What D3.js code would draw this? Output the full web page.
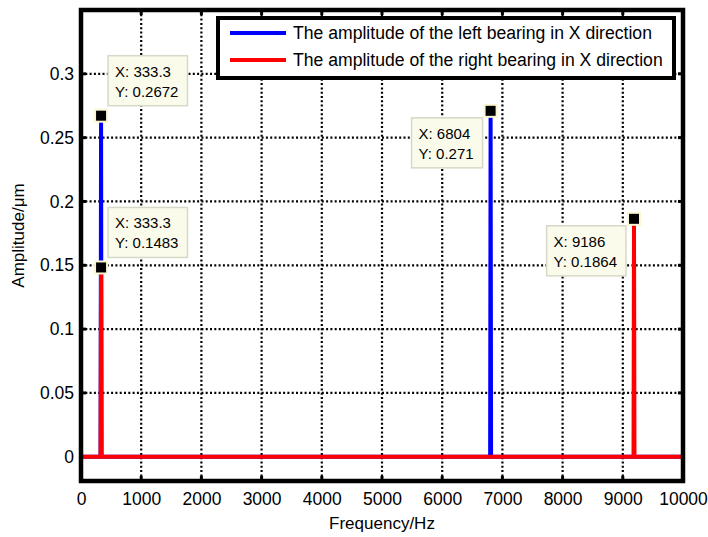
<!DOCTYPE html>
<html>
<head>
<meta charset="utf-8">
<script src="https://cdn.jsdelivr.net/npm/d3@7"></script>
<style>
	body { margin: 0; background: #fff; }
	text { font-family: Arial, "Liberation Sans", sans-serif; fill: #000; }
</style>
</head>
<body>
<div id="chart"></div>
<script>

// Spectrum points (frequency in Hz, amplitude in um)
var leftFreq = [0, 325, 333.3, 341, 6796, 6804, 6812, 10000];
var leftAmp  = [0, 0, 0.2672, 0, 0, 0.271, 0, 0];

var rightFreq = [0, 325, 333.3, 341, 9178, 9186, 9194, 10000];
var rightAmp  = [0, 0, 0.1483, 0, 0, 0.1864, 0, 0];

var seriesNames = ["The amplitude of the left bearing in X direction",
	"The amplitude of the right bearing in X direction"];
var seriesColors = ["#0000ff", "#ff0000"];

// data tips
var tipX = [333.3, 333.3, 6804, 9186];
var tipY = [0.2672, 0.1483, 0.271, 0.1864];
var tipCorner = ["upright", "upright", "downleft", "downleft"];

var xTicks = [0, 1000, 2000, 3000, 4000, 5000, 6000, 7000, 8000, 9000, 10000];
var yTicks = [0, 0.05, 0.1, 0.15, 0.2, 0.25, 0.3];

var margin = {top: 10, right: 25, bottom: 56, left: 81};
var width = 708 - margin.left - margin.right,
	height = 537 - margin.top - margin.bottom;

var svg = d3.select("#chart").append("svg")
	.attr("width", 708)
	.attr("height", 537)
	.append("g")
	.attr("transform", "translate(" + margin.left + "," + margin.top + ")");

var x = d3.scaleLinear()
	.domain([0, 10000])
	.range([0, width]);

var y = d3.scaleLinear()
	.domain([-0.019, 0.35])
	.range([height, 0]);

// Grid (dotted)
svg.selectAll(".xgrid")
	.data(xTicks.slice(1, -1))
	.enter().append("line")
	.attr("x1", function(d) { return x(d); })
	.attr("x2", function(d) { return x(d); })
	.attr("y1", 0)
	.attr("y2", height)
	.style("stroke", "#000")
	.style("stroke-width", 2.2)
	.style("stroke-dasharray", "2,2.3");

svg.selectAll(".ygrid")
	.data(yTicks)
	.enter().append("line")
	.attr("x1", 0)
	.attr("x2", width)
	.attr("y1", function(d) { return y(d); })
	.attr("y2", function(d) { return y(d); })
	.style("stroke", "#000")
	.style("stroke-width", 2.2)
	.style("stroke-dasharray", "2,2.3");

// Axes labels
var xAxis = d3.axisBottom(x).tickValues(xTicks).tickSize(0).tickPadding(12)
	.tickFormat(d3.format("d"));
var yAxis = d3.axisLeft(y).tickValues(yTicks).tickSize(0).tickPadding(7)
	.tickFormat(function(d) { return String(+d.toFixed(2)); });

var gx = svg.append("g")
	.attr("transform", "translate(0," + height + ")")
	.call(xAxis);
var gy = svg.append("g").call(yAxis);

[gx, gy].forEach(function(g) {
	g.select(".domain").remove();
	g.selectAll("text").style("font-size", "17.5px").attr("fill", "#000");
});

// Inner tick stubs
var tickLen = 5;
xTicks.forEach(function(d) {
	svg.append("line").attr("x1", x(d)).attr("x2", x(d)).attr("y1", height).attr("y2", height - tickLen)
		.style("stroke", "#000").style("stroke-width", 3);
	svg.append("line").attr("x1", x(d)).attr("x2", x(d)).attr("y1", 0).attr("y2", tickLen)
		.style("stroke", "#000").style("stroke-width", 3);
});
yTicks.forEach(function(d) {
	svg.append("line").attr("x1", 0).attr("x2", tickLen).attr("y1", y(d)).attr("y2", y(d))
		.style("stroke", "#000").style("stroke-width", 3);
	svg.append("line").attr("x1", width).attr("x2", width - tickLen).attr("y1", y(d)).attr("y2", y(d))
		.style("stroke", "#000").style("stroke-width", 3);
});

// Lines
var line = d3.line()
	.x(function(d) { return x(d[0]); })
	.y(function(d) { return y(d[1]); });

var leftData = leftFreq.map(function(f, i) { return [f, leftAmp[i]]; });
var rightData = rightFreq.map(function(f, i) { return [f, rightAmp[i]]; });

[leftData, rightData].forEach(function(d, i) {
	svg.append("path")
		.datum(d)
		.attr("d", line)
		.style("fill", "none")
		.style("stroke", seriesColors[i])
		.style("stroke-width", 4)
		.style("stroke-linejoin", "bevel");
});

// Plot box
svg.append("rect")
	.attr("x", 0)
	.attr("y", 0)
	.attr("width", width)
	.attr("height", height)
	.style("fill", "none")
	.style("stroke", "#000")
	.style("stroke-width", 4.5);

// Data tips
tipX.forEach(function(tx, i) {
	var px = x(tx), py = y(tipY[i]);
	var g = svg.append("g");
	var t1 = g.append("text").text("X: " + tx).style("font-size", "15px");
	var t2 = g.append("text").text("Y: " + tipY[i]).style("font-size", "15px");
	var w = Math.max(t1.node().getBBox().width, t2.node().getBBox().width) + 16;
	var h = 50;
	var bx, by;
	if (tipCorner[i] == "upright") {
		bx = px + 7; by = py - 10 - h;
	} else {
		bx = px - 8 - w; by = py + 7;
	}
	g.insert("rect", "text")
		.attr("x", bx).attr("y", by)
		.attr("width", w).attr("height", h)
		.style("fill", "#fbfbec")
		.style("stroke", "#d8d8c8")
		.style("stroke-width", 1.5);
	t1.attr("x", bx + 7).attr("y", by + 21);
	t2.attr("x", bx + 7).attr("y", by + 41);
	svg.append("rect")
		.attr("x", px - 6).attr("y", py - 6)
		.attr("width", 12).attr("height", 12)
		.style("fill", "#000")
		.style("stroke", "#fbf6d0")
		.style("stroke-width", 2);
});

// Legend
var legend = svg.append("g").attr("transform", "translate(" + (218 - margin.left) + "," + (18 - margin.top) + ")");
legend.append("rect")
	.attr("width", 456)
	.attr("height", 60)
	.style("fill", "#fff")
	.style("stroke", "#000")
	.style("stroke-width", 4);
seriesNames.forEach(function(name, i) {
	var ly = 15 + i * 27;
	legend.append("line")
		.attr("x1", 12).attr("x2", 68)
		.attr("y1", ly).attr("y2", ly)
		.style("stroke", seriesColors[i])
		.style("stroke-width", 4);
	legend.append("text")
		.attr("x", 75).attr("y", ly)
		.attr("dy", "0.35em")
		.style("font-size", "17.6px")
		.text(name);
});

// Axis titles
svg.append("text")
	.attr("x", width / 2)
	.attr("y", height + 48)
	.style("text-anchor", "middle")
	.style("font-size", "17px")
	.text("Frequency/Hz");

svg.append("text")
	.attr("transform", "rotate(-90)")
	.attr("x", -height / 2 + 10)
	.attr("y", -57)
	.style("text-anchor", "middle")
	.style("font-size", "17px")
	.text("Amplitude/μm");

</script>
</body>
</html>
